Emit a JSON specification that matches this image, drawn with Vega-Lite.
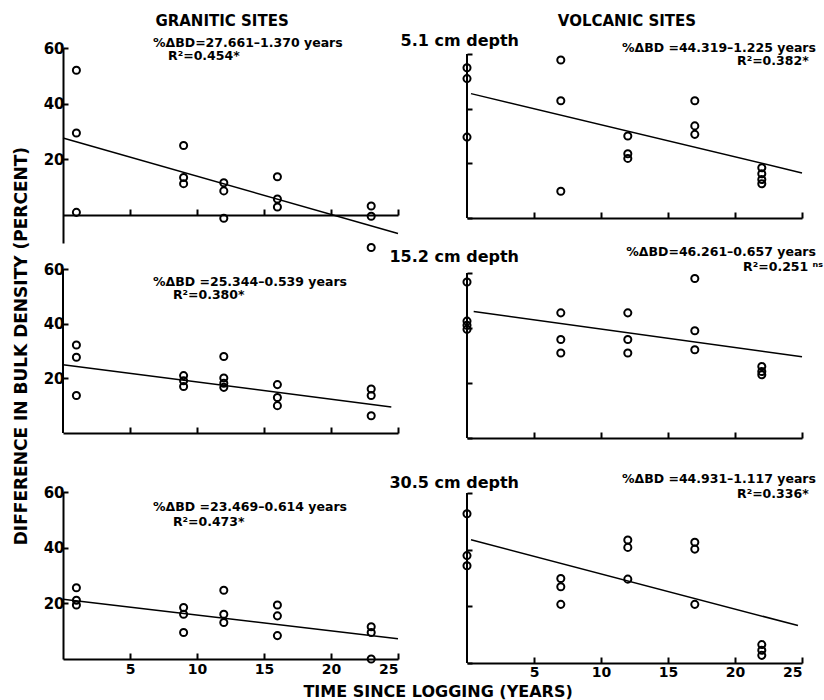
{
  "$schema": "https://vega.github.io/schema/vega-lite/v6.json",
  "padding": {"left": 12, "top": 13, "right": 0, "bottom": 0},
  "background": "white",
  "config": {
    "font": "DejaVu Sans",
    "view": {"stroke": null},
    "axis": {"grid": false, "domainColor": "black", "tickColor": "black", "domainWidth": 2, "tickWidth": 2, "labelColor": "black", "labelFont": "DejaVu Sans", "labelFontWeight": "bold", "labelFontSize": 15}
  },
  "datasets": {
    "pts": [
      {"panel": "G1", "x": 1, "y": 52}, {"panel": "G1", "x": 1, "y": 29.5}, {"panel": "G1", "x": 1, "y": 1},
      {"panel": "G1", "x": 9, "y": 25}, {"panel": "G1", "x": 9, "y": 13.5}, {"panel": "G1", "x": 9, "y": 11.3},
      {"panel": "G1", "x": 12, "y": 11.6}, {"panel": "G1", "x": 12, "y": 8.7}, {"panel": "G1", "x": 12, "y": -1.1},
      {"panel": "G1", "x": 16, "y": 13.8}, {"panel": "G1", "x": 16, "y": 5.8}, {"panel": "G1", "x": 16, "y": 2.9},
      {"panel": "G1", "x": 23, "y": 3.3}, {"panel": "G1", "x": 23, "y": -0.4}, {"panel": "G1", "x": 23, "y": -11.6},
      {"panel": "V1", "x": 0, "y": 55}, {"panel": "V1", "x": 0, "y": 51}, {"panel": "V1", "x": 0, "y": 29.6},
      {"panel": "V1", "x": 7, "y": 57.8}, {"panel": "V1", "x": 7, "y": 42.9}, {"panel": "V1", "x": 7, "y": 9.8},
      {"panel": "V1", "x": 12, "y": 30}, {"panel": "V1", "x": 12, "y": 23.5}, {"panel": "V1", "x": 12, "y": 21.8},
      {"panel": "V1", "x": 17, "y": 42.9}, {"panel": "V1", "x": 17, "y": 33.7}, {"panel": "V1", "x": 17, "y": 30.6},
      {"panel": "V1", "x": 22, "y": 18.4}, {"panel": "V1", "x": 22, "y": 16.2}, {"panel": "V1", "x": 22, "y": 14.1}, {"panel": "V1", "x": 22, "y": 12.5},
      {"panel": "G2", "x": 1, "y": 32.2}, {"panel": "G2", "x": 1, "y": 27.7}, {"panel": "G2", "x": 1, "y": 13.7},
      {"panel": "G2", "x": 9, "y": 21}, {"panel": "G2", "x": 9, "y": 19.1}, {"panel": "G2", "x": 9, "y": 17},
      {"panel": "G2", "x": 12, "y": 28}, {"panel": "G2", "x": 12, "y": 20.1}, {"panel": "G2", "x": 12, "y": 18.2}, {"panel": "G2", "x": 12, "y": 16.7},
      {"panel": "G2", "x": 16, "y": 17.7}, {"panel": "G2", "x": 16, "y": 13}, {"panel": "G2", "x": 16, "y": 10},
      {"panel": "G2", "x": 23, "y": 16.1}, {"panel": "G2", "x": 23, "y": 13.7}, {"panel": "G2", "x": 23, "y": 6.3},
      {"panel": "V2", "x": 0, "y": 56.7}, {"panel": "V2", "x": 0, "y": 42.5}, {"panel": "V2", "x": 0, "y": 41}, {"panel": "V2", "x": 0, "y": 39.5},
      {"panel": "V2", "x": 7, "y": 45.5}, {"panel": "V2", "x": 7, "y": 35.8}, {"panel": "V2", "x": 7, "y": 30.9},
      {"panel": "V2", "x": 12, "y": 45.5}, {"panel": "V2", "x": 12, "y": 35.8}, {"panel": "V2", "x": 12, "y": 30.9},
      {"panel": "V2", "x": 17, "y": 58}, {"panel": "V2", "x": 17, "y": 39}, {"panel": "V2", "x": 17, "y": 32.1},
      {"panel": "V2", "x": 22, "y": 26}, {"panel": "V2", "x": 22, "y": 24.2}, {"panel": "V2", "x": 22, "y": 23},
      {"panel": "G3", "x": 1, "y": 25.6}, {"panel": "G3", "x": 1, "y": 21.1}, {"panel": "G3", "x": 1, "y": 19.4},
      {"panel": "G3", "x": 9, "y": 18.5}, {"panel": "G3", "x": 9, "y": 16.1}, {"panel": "G3", "x": 9, "y": 9.5},
      {"panel": "G3", "x": 12, "y": 24.7}, {"panel": "G3", "x": 12, "y": 16.1}, {"panel": "G3", "x": 12, "y": 13.1},
      {"panel": "G3", "x": 16, "y": 19.4}, {"panel": "G3", "x": 16, "y": 15.5}, {"panel": "G3", "x": 16, "y": 8.4},
      {"panel": "G3", "x": 23, "y": 11.6}, {"panel": "G3", "x": 23, "y": 9.5}, {"panel": "G3", "x": 23, "y": 0},
      {"panel": "V3", "x": 0, "y": 52.7}, {"panel": "V3", "x": 0, "y": 37.9}, {"panel": "V3", "x": 0, "y": 34.3},
      {"panel": "V3", "x": 7, "y": 29.8}, {"panel": "V3", "x": 7, "y": 26.9}, {"panel": "V3", "x": 7, "y": 20.7},
      {"panel": "V3", "x": 12, "y": 43.4}, {"panel": "V3", "x": 12, "y": 40.8}, {"panel": "V3", "x": 12, "y": 29.6},
      {"panel": "V3", "x": 17, "y": 42.6}, {"panel": "V3", "x": 17, "y": 40.2}, {"panel": "V3", "x": 17, "y": 20.7},
      {"panel": "V3", "x": 22, "y": 6.5}, {"panel": "V3", "x": 22, "y": 4.5}, {"panel": "V3", "x": 22, "y": 2.7}
    ],
    "fit": [
      {"panel": "G1", "x": 0, "y": 27.7}, {"panel": "G1", "x": 25, "y": -6.6},
      {"panel": "V1", "x": 0.3, "y": 45.5}, {"panel": "V1", "x": 25, "y": 16.5},
      {"panel": "G2", "x": 0, "y": 25}, {"panel": "G2", "x": 24.5, "y": 9.5},
      {"panel": "V2", "x": 0.5, "y": 46}, {"panel": "V2", "x": 25, "y": 29.5},
      {"panel": "G3", "x": 0, "y": 21.5}, {"panel": "G3", "x": 25, "y": 7.3},
      {"panel": "V3", "x": 0.3, "y": 43.5}, {"panel": "V3", "x": 24.7, "y": 13.2}
    ],
    "yline": [
      {"x": 0, "y": 0, "y2": 60}
    ],
    "txt": [
      {"panel": "G1", "kind": "head", "x": 11.87, "y": 69.7, "label": "GRANITIC SITES"},
      {"panel": "V1", "kind": "head", "x": 11.94, "y": 72.1, "label": "VOLCANIC SITES"},
      {"panel": "V1", "kind": "depth", "x": 3.88, "y": 64.8, "label": "5.1 cm depth"},
      {"panel": "V2", "kind": "depth", "x": 3.88, "y": 65.9, "label": "15.2 cm depth"},
      {"panel": "V3", "kind": "depth", "x": 3.88, "y": 63.5, "label": "30.5 cm depth"},
      {"panel": "G1", "kind": "eqL", "x": 6.72, "y": 61.9, "label": "%ΔBD=27.661–1.370 years"},
      {"panel": "G1", "kind": "eqL", "x": 7.84, "y": 57.1, "label": "R²=0.454*"},
      {"panel": "V1", "kind": "eqR", "x": 26.04, "y": 62.3, "label": "%ΔBD =44.319–1.225 years"},
      {"panel": "V1", "kind": "eqR", "x": 25.5, "y": 57.3, "label": "R²=0.382*"},
      {"panel": "G2", "kind": "eqL", "x": 6.72, "y": 55.4, "label": "%ΔBD =25.344–0.539 years"},
      {"panel": "G2", "kind": "eqL", "x": 8.2, "y": 50.4, "label": "R²=0.380*"},
      {"panel": "V2", "kind": "eqR", "x": 26.04, "y": 67.5, "label": "%ΔBD=46.261–0.657 years"},
      {"panel": "V2", "kind": "eqR", "x": 26.57, "y": 62.2, "label": "R²=0.251 ⁿˢ"},
      {"panel": "G3", "kind": "eqL", "x": 6.72, "y": 54.5, "label": "%ΔBD =23.469–0.614 years"},
      {"panel": "G3", "kind": "eqL", "x": 8.2, "y": 49.3, "label": "R²=0.473*"},
      {"panel": "V3", "kind": "eqR", "x": 26.04, "y": 64.8, "label": "%ΔBD =44.931–1.117 years"},
      {"panel": "V3", "kind": "eqR", "x": 25.5, "y": 59.8, "label": "R²=0.336*"},
      {"panel": "G2", "kind": "ytitle", "x": -3.06, "y": 31.8, "label": "DIFFERENCE IN BULK DENSITY (PERCENT)"},
      {"panel": "G3", "kind": "xtitle", "x": 27.99, "y": -11.7, "label": "TIME SINCE LOGGING (YEARS)"}
    ]
  },
  "bounds": "flush",
  "align": "each",
  "columns": 2,
  "spacing": {"row": 26, "column": 69},
  "concat": [
    {
      "width": 335, "height": 195,
      "encoding": {
        "x": {"field": "x", "type": "quantitative", "scale": {"domain": [0, 25], "nice": false, "zero": false}, "axis": {"values": [5, 10, 15, 20, 25], "labels": false, "tickSize": -6, "offset": -28, "title": null}},
        "y": {"field": "y", "type": "quantitative", "scale": {"domain": [-10, 60], "nice": false, "zero": false}, "axis": {"values": [20, 40, 60], "tickSize": -5, "labelPadding": 4, "title": null}}
      },
      "layer": [
        {"data": {"name": "pts"}, "transform": [{"filter": "datum.panel === 'G1'"}], "mark": {"type": "point", "shape": "circle", "filled": false, "color": "black", "opacity": 1, "size": 50, "strokeWidth": 2}},
        {"data": {"name": "fit"}, "transform": [{"filter": "datum.panel === 'G1'"}], "mark": {"type": "line", "color": "black", "strokeWidth": 1.5}},
        {"data": {"name": "txt"}, "transform": [{"filter": "datum.panel === 'G1' && datum.kind === 'eqL'"}], "mark": {"type": "text", "align": "left", "baseline": "middle", "fontSize": 12.5, "fontWeight": "bold", "color": "black"}, "encoding": {"text": {"field": "label"}}},
        {"data": {"name": "txt"}, "transform": [{"filter": "datum.panel === 'G1' && datum.kind === 'head'"}], "mark": {"type": "text", "align": "center", "baseline": "middle", "fontSize": 15, "fontWeight": "bold", "color": "black"}, "encoding": {"text": {"field": "label"}}}
      ]
    },
    {
      "width": 335, "height": 195,
      "encoding": {
        "x": {"field": "x", "type": "quantitative", "scale": {"domain": [0, 25], "nice": false, "zero": false}, "axis": {"values": [5, 10, 15, 20, 25], "labels": false, "tickSize": -6, "offset": -25, "title": null}},
        "y": {"field": "y", "type": "quantitative", "scale": {"domain": [-9.15, 62.2], "nice": false, "zero": false}, "axis": {"values": [0, 20, 40, 60], "labels": false, "domain": false, "tickSize": -5, "title": null}}
      },
      "layer": [
        {"data": {"name": "yline"}, "mark": {"type": "rule", "color": "black", "strokeWidth": 2}, "encoding": {"y2": {"field": "y2"}}},
        {"data": {"name": "pts"}, "transform": [{"filter": "datum.panel === 'V1'"}], "mark": {"type": "point", "shape": "circle", "filled": false, "color": "black", "opacity": 1, "size": 50, "strokeWidth": 2}},
        {"data": {"name": "fit"}, "transform": [{"filter": "datum.panel === 'V1'"}], "mark": {"type": "line", "color": "black", "strokeWidth": 1.5}},
        {"data": {"name": "txt"}, "transform": [{"filter": "datum.panel === 'V1' && datum.kind === 'eqR'"}], "mark": {"type": "text", "align": "right", "baseline": "middle", "fontSize": 12.5, "fontWeight": "bold", "color": "black"}, "encoding": {"text": {"field": "label"}}},
        {"data": {"name": "txt"}, "transform": [{"filter": "datum.panel === 'V1' && datum.kind === 'head'"}], "mark": {"type": "text", "align": "center", "baseline": "middle", "fontSize": 15, "fontWeight": "bold", "color": "black"}, "encoding": {"text": {"field": "label"}}},
        {"data": {"name": "txt"}, "transform": [{"filter": "datum.panel === 'V1' && datum.kind === 'depth'"}], "mark": {"type": "text", "align": "right", "baseline": "middle", "fontSize": 16, "fontWeight": "bold", "color": "black"}, "encoding": {"text": {"field": "label"}}}
      ]
    },
    {
      "width": 335, "height": 197,
      "encoding": {
        "x": {"field": "x", "type": "quantitative", "scale": {"domain": [0, 25], "nice": false, "zero": false}, "axis": {"values": [5, 10, 15, 20, 25], "labels": false, "tickSize": -6, "offset": -33, "title": null}},
        "y": {"field": "y", "type": "quantitative", "scale": {"domain": [-12.08, 60], "nice": false, "zero": false}, "axis": {"values": [20, 40, 60], "tickSize": -5, "labelPadding": 4, "domain": false, "title": null}}
      },
      "layer": [
        {"data": {"name": "yline"}, "mark": {"type": "rule", "color": "black", "strokeWidth": 2}, "encoding": {"y2": {"field": "y2"}}},
        {"data": {"name": "pts"}, "transform": [{"filter": "datum.panel === 'G2'"}], "mark": {"type": "point", "shape": "circle", "filled": false, "color": "black", "opacity": 1, "size": 50, "strokeWidth": 2}},
        {"data": {"name": "fit"}, "transform": [{"filter": "datum.panel === 'G2'"}], "mark": {"type": "line", "color": "black", "strokeWidth": 1.5}},
        {"data": {"name": "txt"}, "transform": [{"filter": "datum.panel === 'G2' && datum.kind === 'eqL'"}], "mark": {"type": "text", "align": "left", "baseline": "middle", "fontSize": 12.5, "fontWeight": "bold", "color": "black"}, "encoding": {"text": {"field": "label"}}},
        {"data": {"name": "txt"}, "transform": [{"filter": "datum.panel === 'G2' && datum.kind === 'ytitle'"}], "mark": {"type": "text", "align": "center", "baseline": "middle", "angle": 270, "fontSize": 17, "fontWeight": "bold", "color": "black"}, "encoding": {"text": {"field": "label"}}}
      ]
    },
    {
      "width": 335, "height": 197,
      "encoding": {
        "x": {"field": "x", "type": "quantitative", "scale": {"domain": [0, 25], "nice": false, "zero": false}, "axis": {"values": [5, 10, 15, 20, 25], "labels": false, "tickSize": -6, "offset": -28, "title": null}},
        "y": {"field": "y", "type": "quantitative", "scale": {"domain": [-10.2, 61.45], "nice": false, "zero": false}, "axis": {"values": [0, 20, 40, 60], "labels": false, "domain": false, "tickSize": -5, "title": null}}
      },
      "layer": [
        {"data": {"name": "yline"}, "mark": {"type": "rule", "color": "black", "strokeWidth": 2}, "encoding": {"y2": {"field": "y2"}}},
        {"data": {"name": "pts"}, "transform": [{"filter": "datum.panel === 'V2'"}], "mark": {"type": "point", "shape": "circle", "filled": false, "color": "black", "opacity": 1, "size": 50, "strokeWidth": 2}},
        {"data": {"name": "fit"}, "transform": [{"filter": "datum.panel === 'V2'"}], "mark": {"type": "line", "color": "black", "strokeWidth": 1.5}},
        {"data": {"name": "txt"}, "transform": [{"filter": "datum.panel === 'V2' && datum.kind === 'eqR'"}], "mark": {"type": "text", "align": "right", "baseline": "middle", "fontSize": 12.5, "fontWeight": "bold", "color": "black"}, "encoding": {"text": {"field": "label"}}},
        {"data": {"name": "txt"}, "transform": [{"filter": "datum.panel === 'V2' && datum.kind === 'depth'"}], "mark": {"type": "text", "align": "right", "baseline": "middle", "fontSize": 16, "fontWeight": "bold", "color": "black"}, "encoding": {"text": {"field": "label"}}}
      ]
    },
    {
      "width": 335, "height": 167,
      "encoding": {
        "x": {"field": "x", "type": "quantitative", "scale": {"domain": [0, 25], "nice": false, "zero": false}, "axis": {"values": [5, 10, 15, 20, 25], "tickSize": -6, "labelPadding": 9, "labelFontSize": 14, "title": null}},
        "y": {"field": "y", "type": "quantitative", "scale": {"domain": [0, 60], "nice": false, "zero": false}, "axis": {"values": [20, 40, 60], "tickSize": -5, "labelPadding": 4, "title": null}}
      },
      "layer": [
        {"data": {"name": "pts"}, "transform": [{"filter": "datum.panel === 'G3'"}], "mark": {"type": "point", "shape": "circle", "filled": false, "color": "black", "opacity": 1, "size": 50, "strokeWidth": 2}},
        {"data": {"name": "fit"}, "transform": [{"filter": "datum.panel === 'G3'"}], "mark": {"type": "line", "color": "black", "strokeWidth": 1.5}},
        {"data": {"name": "txt"}, "transform": [{"filter": "datum.panel === 'G3' && datum.kind === 'eqL'"}], "mark": {"type": "text", "align": "left", "baseline": "middle", "fontSize": 12.5, "fontWeight": "bold", "color": "black"}, "encoding": {"text": {"field": "label"}}},
        {"data": {"name": "txt"}, "transform": [{"filter": "datum.panel === 'G3' && datum.kind === 'xtitle'"}], "mark": {"type": "text", "align": "center", "baseline": "middle", "fontSize": 16, "fontWeight": "bold", "color": "black"}, "encoding": {"text": {"field": "label"}}}
      ]
    },
    {
      "width": 335, "height": 171,
      "encoding": {
        "x": {"field": "x", "type": "quantitative", "scale": {"domain": [0, 25], "nice": false, "zero": false}, "axis": {"values": [5, 10, 15, 20, 25], "tickSize": -6, "labelPadding": 8, "labelFontSize": 14, "title": null}},
        "y": {"field": "y", "type": "quantitative", "scale": {"domain": [0, 60.35], "nice": false, "zero": false}, "axis": {"values": [0, 20, 40, 60], "labels": false, "domain": false, "tickSize": -5, "title": null}}
      },
      "layer": [
        {"data": {"name": "yline"}, "mark": {"type": "rule", "color": "black", "strokeWidth": 2}, "encoding": {"y2": {"field": "y2"}}},
        {"data": {"name": "pts"}, "transform": [{"filter": "datum.panel === 'V3'"}], "mark": {"type": "point", "shape": "circle", "filled": false, "color": "black", "opacity": 1, "size": 50, "strokeWidth": 2}},
        {"data": {"name": "fit"}, "transform": [{"filter": "datum.panel === 'V3'"}], "mark": {"type": "line", "color": "black", "strokeWidth": 1.5}},
        {"data": {"name": "txt"}, "transform": [{"filter": "datum.panel === 'V3' && datum.kind === 'eqR'"}], "mark": {"type": "text", "align": "right", "baseline": "middle", "fontSize": 12.5, "fontWeight": "bold", "color": "black"}, "encoding": {"text": {"field": "label"}}},
        {"data": {"name": "txt"}, "transform": [{"filter": "datum.panel === 'V3' && datum.kind === 'depth'"}], "mark": {"type": "text", "align": "right", "baseline": "middle", "fontSize": 16, "fontWeight": "bold", "color": "black"}, "encoding": {"text": {"field": "label"}}}
      ]
    }
  ]
}
